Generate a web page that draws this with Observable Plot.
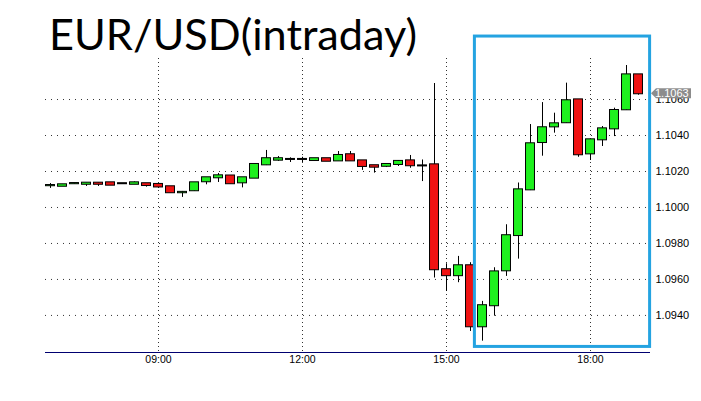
<!DOCTYPE html>
<html>
<head>
<meta charset="utf-8">
<script src="https://cdn.jsdelivr.net/npm/d3@7"></script>
<script src="https://cdn.jsdelivr.net/npm/@observablehq/plot@0.6"></script>
<style>
  html, body { margin: 0; padding: 0; background: #fff; }
  #chart { position: relative; width: 701px; height: 401px; }
</style>
</head>
<body>
<div id="chart"></div>
<script>
const title = "EUR/USD(intraday)";
const times = ["06:45","07:00","07:15","07:30","07:45","08:00","08:15","08:30","08:45","09:00",
  "09:15","09:30","09:45","10:00","10:15","10:30","10:45","11:00","11:15","11:30",
  "11:45","12:00","12:15","12:30","12:45","13:00","13:15","13:30","13:45","14:00",
  "14:15","14:30","14:45","15:00","15:15","15:30","15:45","16:00","16:15","16:30",
  "16:45","17:00","17:15","17:30","17:45","18:00","18:15","18:30","18:45","19:00"];
const opens = [1.10121,1.10118,1.10132,1.10129,1.10135,1.10137,1.10132,1.10129,1.10132,1.10128,
  1.10115,1.10082,1.10093,1.10143,1.10165,1.10175,1.10137,1.10163,1.10237,1.10263,
  1.10267,1.10267,1.10261,1.10271,1.10259,1.10293,1.10259,1.10232,1.10229,1.10239,
  1.10259,1.10231,1.10237,1.09654,1.09621,1.09676,1.09337,1.09454,1.09648,1.09844,
  1.10098,1.10361,1.10448,1.10471,1.10598,1.10298,1.10376,1.10437,1.10543,1.10737];
const highs = [1.10133,1.10128,1.10133,1.10136,1.10136,1.10137,1.10133,1.10142,1.10132,1.10128,
  1.10115,1.10089,1.10137,1.10165,1.10189,1.10176,1.10165,1.10239,1.10317,1.10283,
  1.10276,1.10279,1.10271,1.10271,1.10311,1.10311,1.10259,1.10232,1.10239,1.10261,
  1.10289,1.10264,1.10689,1.09687,1.09728,1.09693,1.09478,1.09665,1.09904,1.10136,
  1.10461,1.10583,1.10524,1.10691,1.10600,1.10378,1.10450,1.10552,1.10789,1.10739];
const lows = [1.10106,1.10117,1.10128,1.10117,1.10117,1.10124,1.10131,1.10129,1.10113,1.10106,
  1.10082,1.10056,1.10089,1.10126,1.10139,1.10132,1.10109,1.10161,1.10233,1.10256,
  1.10250,1.10250,1.10258,1.10257,1.10259,1.10259,1.10206,1.10191,1.10222,1.10228,
  1.10218,1.10144,1.09608,1.09533,1.09582,1.09311,1.09257,1.09396,1.09617,1.09713,
  1.10094,1.10285,1.10413,1.10467,1.10279,1.10261,1.10339,1.10394,1.10539,1.10624];
const closes = [1.10122,1.10126,1.10133,1.10135,1.10129,1.10124,1.10132,1.10137,1.10122,1.10114,
  1.10082,1.10084,1.10137,1.10165,1.10176,1.10132,1.10165,1.10239,1.10271,1.10271,
  1.10267,1.10267,1.10271,1.10257,1.10289,1.10259,1.10228,1.10224,1.10239,1.10256,
  1.10232,1.10231,1.09654,1.09621,1.09676,1.09337,1.09454,1.09642,1.09843,1.10098,
  1.10354,1.10443,1.10465,1.10593,1.10293,1.10376,1.10437,1.10539,1.10737,1.10632];
const xTickLabels = ["09:00","12:00","15:00","18:00"];
const yTicks = [1.0940,1.0960,1.0980,1.1000,1.1020,1.1040,1.1060];
const xDomainLabels = ["06:38:45","19:15:00"];
const yDomain = [1.09194, 1.10828];
// highlighted box: [start time, end time], [low price, high price]
const highlightTimes = ["15:35:30","19:14:30"];
const highlightPrices = [1.09225, 1.10950];

const toDate = s => { const [h,m,sec] = s.split(":").map(Number); return new Date(Date.UTC(2015,2,1,h,m,sec||0)); };
const candles = times.map((t,i) => ({t: toDate(t), open: opens[i], high: highs[i], low: lows[i], close: closes[i]}));
const halfBody = 5.6 * 60 * 1000;
const colorOf = d => d.close > d.open ? "#1ef01e" : d.close < d.open ? "#f01212" : "#000";
const highlight = [{x1: toDate(highlightTimes[0]), x2: toDate(highlightTimes[1]), y1: highlightPrices[0], y2: highlightPrices[1]}];

const chart = Plot.plot({
  width: 701,
  height: 401,
  marginLeft: 45,
  marginRight: 51,
  marginTop: 58,
  marginBottom: 49,
  style: {fontFamily: "Liberation Sans, Arial, sans-serif", fontSize: "11px", color: "#000", background: "#fff"},
  x: {type: "utc", domain: xDomainLabels.map(toDate), ticks: xTickLabels.map(toDate), tickFormat: d3.utcFormat("%H:%M"), tickSize: 0, tickPadding: 3, label: null},
  y: {domain: yDomain, axis: "right", ticks: yTicks, tickFormat: d => d.toFixed(4), tickSize: 0, tickPadding: 5, label: null},
  marks: [
    Plot.ruleY(yTicks, {stroke: "#000", strokeOpacity: 0.8, strokeDasharray: "1 5"}),
    Plot.ruleX(xTickLabels.map(toDate), {stroke: "#000", strokeOpacity: 0.8, strokeDasharray: "1 3"}),
    Plot.ruleY([yDomain[0]], {stroke: "#000070", strokeWidth: 1.2}),
    Plot.ruleX(candles, {x: "t", y1: "low", y2: "high", stroke: "#000", strokeWidth: 1}),
    Plot.rect(candles, {x1: d => new Date(+d.t - halfBody), x2: d => new Date(+d.t + halfBody), y1: "open", y2: "close",
      insetTop: -0.5, insetBottom: -0.5, fill: colorOf, stroke: "#000", strokeWidth: 1}),
    Plot.rect(highlight, {x1: "x1", x2: "x2", y1: "y1", y2: "y2", fill: "none", stroke: "#24a3e1", strokeWidth: 3})
  ]
});
document.getElementById("chart").appendChild(chart);

const svg = d3.select(chart);
svg.attr("overflow", "visible");
svg.selectAll('g[aria-label^="x-axis"] text').style("font-size", "10.5px");

// last price tag
const yS = chart.scale("y"), xS = chart.scale("x");
const last = closes[closes.length - 1];
const ty = yS.apply(last), tx = xS.range[1];
const tag = svg.append("g").attr("text-anchor", "start");
tag.append("path")
  .attr("d", `M${tx+1},${ty} L${tx+6},${ty-5} L${tx+41},${ty-5} L${tx+41},${ty+5} L${tx+6},${ty+5} Z`)
  .attr("fill", "#8c8c8c");
tag.append("text").attr("x", tx + 5).attr("y", ty).attr("dy", "0.36em").attr("text-anchor", "start")
  .attr("fill", "#fff").style("font", "11px 'Liberation Sans', Arial, sans-serif").text(last.toFixed(4));

// title
const tt = svg.append("text").attr("x", 49).attr("y", 50).attr("text-anchor", "start")
  .style("font-family", "Lato, 'Open Sans', sans-serif").style("font-size", "42px").attr("fill", "#000").text(title);
const len = tt.node().getComputedTextLength();
tt.style("font-size", (42 * 368 / len).toFixed(2) + "px");
</script>
</body>
</html>
